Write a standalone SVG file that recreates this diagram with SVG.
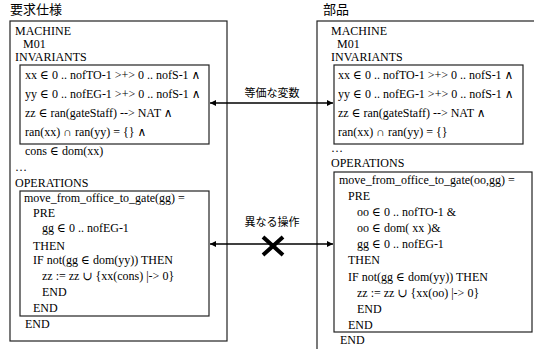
<svg xmlns="http://www.w3.org/2000/svg" width="534" height="349" viewBox="0 0 534 349">
<style>
.t{font-family:"Liberation Serif","DejaVu Serif",serif;font-size:12px;fill:#000}
.j{font-family:"Noto Sans CJK JP","Noto Sans",sans-serif;fill:#000}
.b{fill:#fff;stroke:#222;stroke-width:1.2}
.c{stroke:#000;stroke-width:1.4;fill:none}
</style>
<defs>
<marker id="ah" viewBox="0 0 10 10" refX="10" refY="5" markerWidth="8" markerHeight="6" orient="auto-start-reverse" markerUnits="userSpaceOnUse">
<path d="M0,0 L10,5 L0,10 z" fill="#000"/>
</marker>
</defs>
<rect width="534" height="349" fill="#fff"/>
<g id="spec">
<text class="j" x="10" y="14" font-size="13">要求仕様</text>
<rect class="b" x="10" y="21" width="217" height="320"/>
<text class="t" x="15" y="35">MACHINE</text>
<text class="t" x="23" y="48">M01</text>
<text class="t" x="15" y="61">INVARIANTS</text>
<g id="spec-inv">
<rect class="b" x="20" y="65" width="189" height="79"/>
<text class="t" x="25" y="79">xx ∈ 0 .. nofTO-1 &gt;+&gt; 0 .. nofS-1 ∧</text>
<text class="t" x="25" y="98">yy ∈ 0 .. nofEG-1 &gt;+&gt; 0 .. nofS-1 ∧</text>
<text class="t" x="25" y="117">zz ∈ ran(gateStaff) --&gt; NAT ∧</text>
<text class="t" x="25" y="136">ran(xx) ∩ ran(yy) = {} ∧</text>
</g>
<text class="t" x="25" y="155">cons ∈ dom(xx)</text>
<text class="t" x="15" y="171">…</text>
<text class="t" x="15" y="187">OPERATIONS</text>
<g id="spec-op">
<rect class="b" x="20" y="191" width="189" height="125"/>
<text class="t" x="24" y="202">move_from_office_to_gate(gg) =</text>
<text class="t" x="33" y="217">PRE</text>
<text class="t" x="42" y="232">gg ∈ 0 .. nofEG-1</text>
<text class="t" x="33" y="250">THEN</text>
<text class="t" x="33" y="264">IF not(gg ∈ dom(yy)) THEN</text>
<text class="t" x="42" y="280">zz := zz ∪ {xx(cons) |-&gt; 0}</text>
<text class="t" x="42" y="296">END</text>
<text class="t" x="33" y="312">END</text>
</g>
<text class="t" x="25" y="328">END</text>
</g>
<g id="part">
<text class="j" x="323" y="14" font-size="13">部品</text>
<rect class="b" x="317" y="21" width="240" height="340"/>
<text class="t" x="331" y="35">MACHINE</text>
<text class="t" x="337" y="48">M01</text>
<text class="t" x="331" y="61">INVARIANTS</text>
<g id="part-inv">
<rect class="b" x="334" y="65" width="189" height="79"/>
<text class="t" x="338" y="79">xx ∈ 0 .. nofTO-1 &gt;+&gt; 0 .. nofS-1 ∧</text>
<text class="t" x="338" y="98">yy ∈ 0 .. nofEG-1 &gt;+&gt; 0 .. nofS-1 ∧</text>
<text class="t" x="338" y="117">zz ∈ ran(gateStaff) --&gt; NAT ∧</text>
<text class="t" x="338" y="136">ran(xx) ∩ ran(yy) = {}</text>
</g>
<text class="t" x="331" y="152">…</text>
<text class="t" x="331" y="167">OPERATIONS</text>
<g id="part-op">
<rect class="b" x="334" y="172" width="198" height="160"/>
<text class="t" x="339" y="184">move_from_office_to_gate(oo,gg) =</text>
<text class="t" x="348" y="200">PRE</text>
<text class="t" x="357" y="216">oo ∈ 0 .. nofTO-1 &amp;</text>
<text class="t" x="357" y="232">oo ∈ dom( xx )&amp;</text>
<text class="t" x="357" y="248">gg ∈ 0 .. nofEG-1</text>
<text class="t" x="348" y="264">THEN</text>
<text class="t" x="348" y="281">IF not(gg ∈ dom(yy)) THEN</text>
<text class="t" x="357" y="297">zz := zz ∪ {xx(oo) |-&gt; 0}</text>
<text class="t" x="357" y="313">END</text>
<text class="t" x="348" y="329">END</text>
</g>
<text class="t" x="340" y="344">END</text>
</g>
<g id="connectors">
<line class="c" x1="210" y1="103" x2="333" y2="103" marker-start="url(#ah)" marker-end="url(#ah)"/>
<text class="j" x="272" y="97" font-size="11" text-anchor="middle">等価な変数</text>
<line class="c" x1="210" y1="244" x2="333" y2="244" marker-start="url(#ah)" marker-end="url(#ah)"/>
<text class="j" x="272" y="226" font-size="11" text-anchor="middle">異なる操作</text>
<path d="M263,237 L283,255 M283,237 L263,255" stroke="#000" stroke-width="4" fill="none"/>
</g>
</svg>
